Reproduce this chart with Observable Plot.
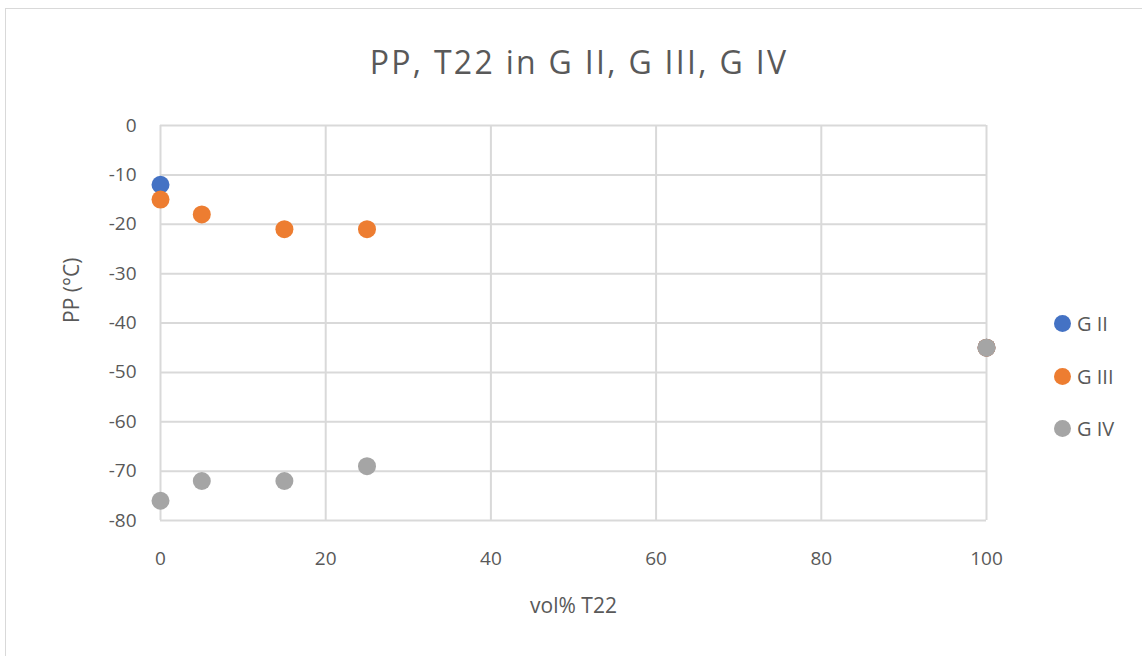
<!DOCTYPE html>
<html><head><meta charset="utf-8">
<script src="https://cdn.jsdelivr.net/npm/d3@7"></script>
<script src="https://cdn.jsdelivr.net/npm/@observablehq/plot@0.6"></script>
<style>
body{margin:0;background:#fff;font-family:"Open Sans",sans-serif;}
#wrap{position:relative;width:1142px;height:656px;overflow:hidden;}
#frame{position:absolute;left:5px;top:8px;width:1160px;height:700px;border:1px solid #d9d9d9;box-sizing:border-box;}
#title{position:absolute;left:0;width:1158px;top:40px;text-align:center;font-size:32px;color:#595959;letter-spacing:2.3px;}
#chart{position:absolute;left:0;top:0;}
#legend{position:absolute;left:1054px;top:0;font-size:20px;color:#595959;}
.li{position:absolute;left:0;display:flex;align-items:center;height:30px;margin-top:-15px;white-space:nowrap;}
.li span.m{display:inline-block;width:17px;height:17px;border-radius:50%;margin-right:6px;}
</style></head>
<body><div id="wrap"><div id="frame"></div><div id="title">PP, T22 in G II, G III, G IV</div><div id="chart"></div><div id="legend"></div></div>
<script>
const seriesNames = ["G II", "G III", "G IV"];
const seriesColors = ["#4472C4", "#ED7D31", "#A5A5A5"];
const volGII = [0, 100];
const ppGII = [-12, -45];
const volGIII = [0, 5, 15, 25, 100];
const ppGIII = [-15, -18, -21, -21, -45];
const volGIV = [0, 5, 15, 25, 100];
const ppGIV = [-76, -72, -72, -69, -45];
const xTicks = [0, 20, 40, 60, 80, 100];
const yTicks = [0, -10, -20, -30, -40, -50, -60, -70, -80];
const xTitle = "vol% T22";
const yTitle = "PP (°C)";

const data = [];
[[volGII, ppGII], [volGIII, ppGIII], [volGIV, ppGIV]].forEach(([xs, ys], i) => {
  xs.forEach((x, j) => data.push({series: seriesNames[i], vol: x, pp: ys[j]}));
});

const fmt = d => String(d);
const plot = Plot.plot({
  width: 1142, height: 656,
  marginLeft: 160, marginRight: 156, marginTop: 125, marginBottom: 136,
  style: {fontFamily: "Open Sans, sans-serif", fontSize: "19px", color: "#595959", background: "transparent"},
  x: {domain: [0, 100]},
  y: {domain: [-80, 0]},
  color: {domain: seriesNames, range: seriesColors},
  marks: [
    Plot.gridX(xTicks, {stroke: "#d9d9d9", strokeOpacity: 1, strokeWidth: 2}),
    Plot.gridY(yTicks, {stroke: "#d9d9d9", strokeOpacity: 1, strokeWidth: 2}),
    Plot.axisX({ticks: xTicks, tickSize: 0, tickPadding: 31, tickFormat: fmt, label: null, fontSize: 19}),
    Plot.axisY({ticks: yTicks, tickSize: 0, tickPadding: 24, tickFormat: fmt, label: null, fontSize: 19}),
    Plot.text([xTitle], {frameAnchor: "bottom", dy: 92, fontSize: 21, fill: "#595959"}),
    Plot.text([yTitle], {frameAnchor: "left", dx: -88, rotate: -90, fontSize: 21, fill: "#595959"}),
    Plot.dot(data, {x: "vol", y: "pp", fill: "series", r: 9})
  ]
});
document.getElementById("chart").appendChild(plot);

const legTops = [323, 376, 428];
const leg = document.getElementById("legend");
seriesNames.forEach((n, i) => {
  const d = document.createElement("div");
  d.className = "li";
  d.style.top = legTops[i] + "px";
  d.innerHTML = `<span class="m" style="background:${seriesColors[i]}"></span><span>${n}</span>`;
  leg.appendChild(d);
});
</script></body></html>
